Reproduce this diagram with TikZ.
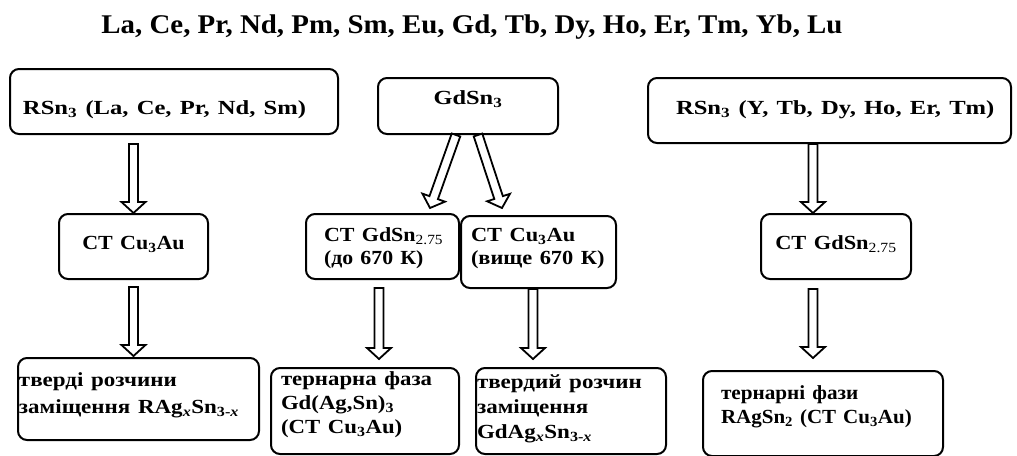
\documentclass[tikz,border=0pt]{standalone}
\usepackage{fontspec}
\usepackage{graphicx}
\setmainfont{Liberation Serif}
\usetikzlibrary{calc}
\newcommand\hs[2]{\scalebox{#1}[1]{#2}}
\tikzset{
  box/.style={draw, line width=2pt, rounded corners=9pt, inner ysep=0pt, anchor=north west,
    font=\fontsize{20}{24}\selectfont\bfseries},
  arr/.style={draw, line width=1.8pt, fill=white, line join=miter},
}
\newcommand\blockarrow[2]{%
  \draw[arr] let \p1=(#1), \p2=(#2) in
    ($(\p1)!4.5pt!90:(\p2)$) --
    ($(\p2)!11pt!(\p1)!4.5pt!-90:(\p1)$) --
    ($(\p2)!11pt!(\p1)!12pt!-90:(\p1)$) --
    (\p2) --
    ($(\p2)!11pt!(\p1)!12pt!90:(\p1)$) --
    ($(\p2)!11pt!(\p1)!4.5pt!90:(\p1)$) --
    ($(\p1)!4.5pt!-90:(\p2)$) -- cycle;}
\begin{document}
\begin{tikzpicture}[x=1pt,y=-1pt]
\useasboundingbox (0,0) rectangle (1017,455);
% title
\node[font=\fontsize{27}{30}\selectfont\bfseries, anchor=base, inner sep=0pt] (title) at (472,33)
  {\hs{1.07}{La, Ce, Pr, Nd, Pm, Sm, Eu, Gd, Tb, Dy, Ho, Er, Tm, Yb, Lu}};
% boxes
\node[box, inner xsep=13pt, text width=302pt, text height=45pt, text depth=20pt, align=left] (A) at (9,68)
  {\hs{1.23}{RSn\textsubscript{3} (La, Ce, Pr, Nd, Sm)}};
\node[box, inner xsep=4pt, text width=141pt, text height=35pt, text depth=30pt, align=center] (B) at (58,213)
  {\hs{1.1}{CT Cu\textsubscript{3}Au}};
\node[box, inner xsep=1pt, text width=239pt, text height=28pt, text depth=54pt, align=left,
  font=\fontsize{20}{27}\selectfont\bfseries] (C) at (17,357)
  {\hs{1.15}{тверді розчини}\\\hs{1.15}{заміщення RAg\textsubscript{\textit{x}}Sn\textsubscript{3-\textit{x}}}};
\node[box, inner xsep=4pt, text width=172pt, text height=26pt, text depth=30pt, align=center] (D) at (377,77)
  {\hs{1.22}{GdSn\textsubscript{3}}};
\node[box, inner xsep=8pt, text width=137pt, text height=27pt, text depth=38pt, align=left,
  font=\fontsize{20}{23}\selectfont\bfseries] (E) at (305,213)
  {\hspace*{10pt}\hs{1.1}{CT GdSn\textsubscript{\mdseries 2.75}}\\\hspace*{10pt}\hs{1.09}{(до 670 К)}};
\node[box, inner xsep=10pt, text width=135pt, text height=25pt, text depth=47pt, align=left,
  font=\fontsize{20}{23}\selectfont\bfseries] (F) at (460,215)
  {\hs{1.12}{CT Cu\textsubscript{3}Au}\\\hs{1.12}{(вище 670 К)}};
\node[box, inner xsep=10pt, text width=168pt, text height=17pt, text depth=69pt, align=left] (G) at (270,367)
  {\hs{1.14}{тернарна фаза}\\\hs{1.14}{Gd(Ag,Sn)\textsubscript{3}}\\\hs{1.14}{(CT Cu\textsubscript{3}Au)}};
\node[box, inner xsep=1pt, text width=188pt, text height=20pt, text depth=66pt, align=left,
  font=\fontsize{20}{25}\selectfont\bfseries] (H) at (475,367)
  {\hs{1.15}{твердий розчин}\\\hs{1.15}{заміщення}\\\hs{1.15}{GdAg\textsubscript{\textit{x}}Sn\textsubscript{3-\textit{x}}}};
\node[box, inner xsep=18pt, text width=204pt, text height=28pt, text depth=57pt, align=left] (I) at (702,370)
  {\hs{1.06}{тернарні фази}\\\hs{1.05}{RAgSn\textsubscript{2} (CT Cu\textsubscript{3}Au)}};
\node[box, inner xsep=8pt, text width=347pt, text height=36pt, text depth=29pt, align=left] (J) at (647,77)
  {\hspace*{20pt}\hs{1.23}{RSn\textsubscript{3} (Y, Tb, Dy, Ho, Er, Tm)}};
\node[box, inner xsep=4pt, text width=142pt, text height=35pt, text depth=30pt, align=center] (K) at (760,213)
  {\hs{1.12}{CT GdSn\textsubscript{\mdseries 2.75}}};
% arrows
\blockarrow{$(A.south -| B.north)+(0,9)$}{B.north}
\blockarrow{$(B.south)+(0,7)$}{$(C.north -| B.south)+(0,-1)$}
\blockarrow{$(D.south)+(-12,0)$}{$(E.north east)+(-30,-5)$}
\blockarrow{$(D.south)+(10,0)$}{$(F.north west)+(42,-7)$}
\blockarrow{$(E.south)+(-3.5,8)$}{$(G.north -| E.south)+(-3.5,-8)$}
\blockarrow{$(F.south)+(-5.5,0)$}{$(H.north -| F.south)+(-5.5,-8)$}
\blockarrow{$(J.south)+(-16.5,0)$}{$(K.north)+(-23,0)$}
\blockarrow{$(K.south)+(-23,9)$}{$(I.north -| K.south)+(-23,-12)$}
\end{tikzpicture}
\end{document}
